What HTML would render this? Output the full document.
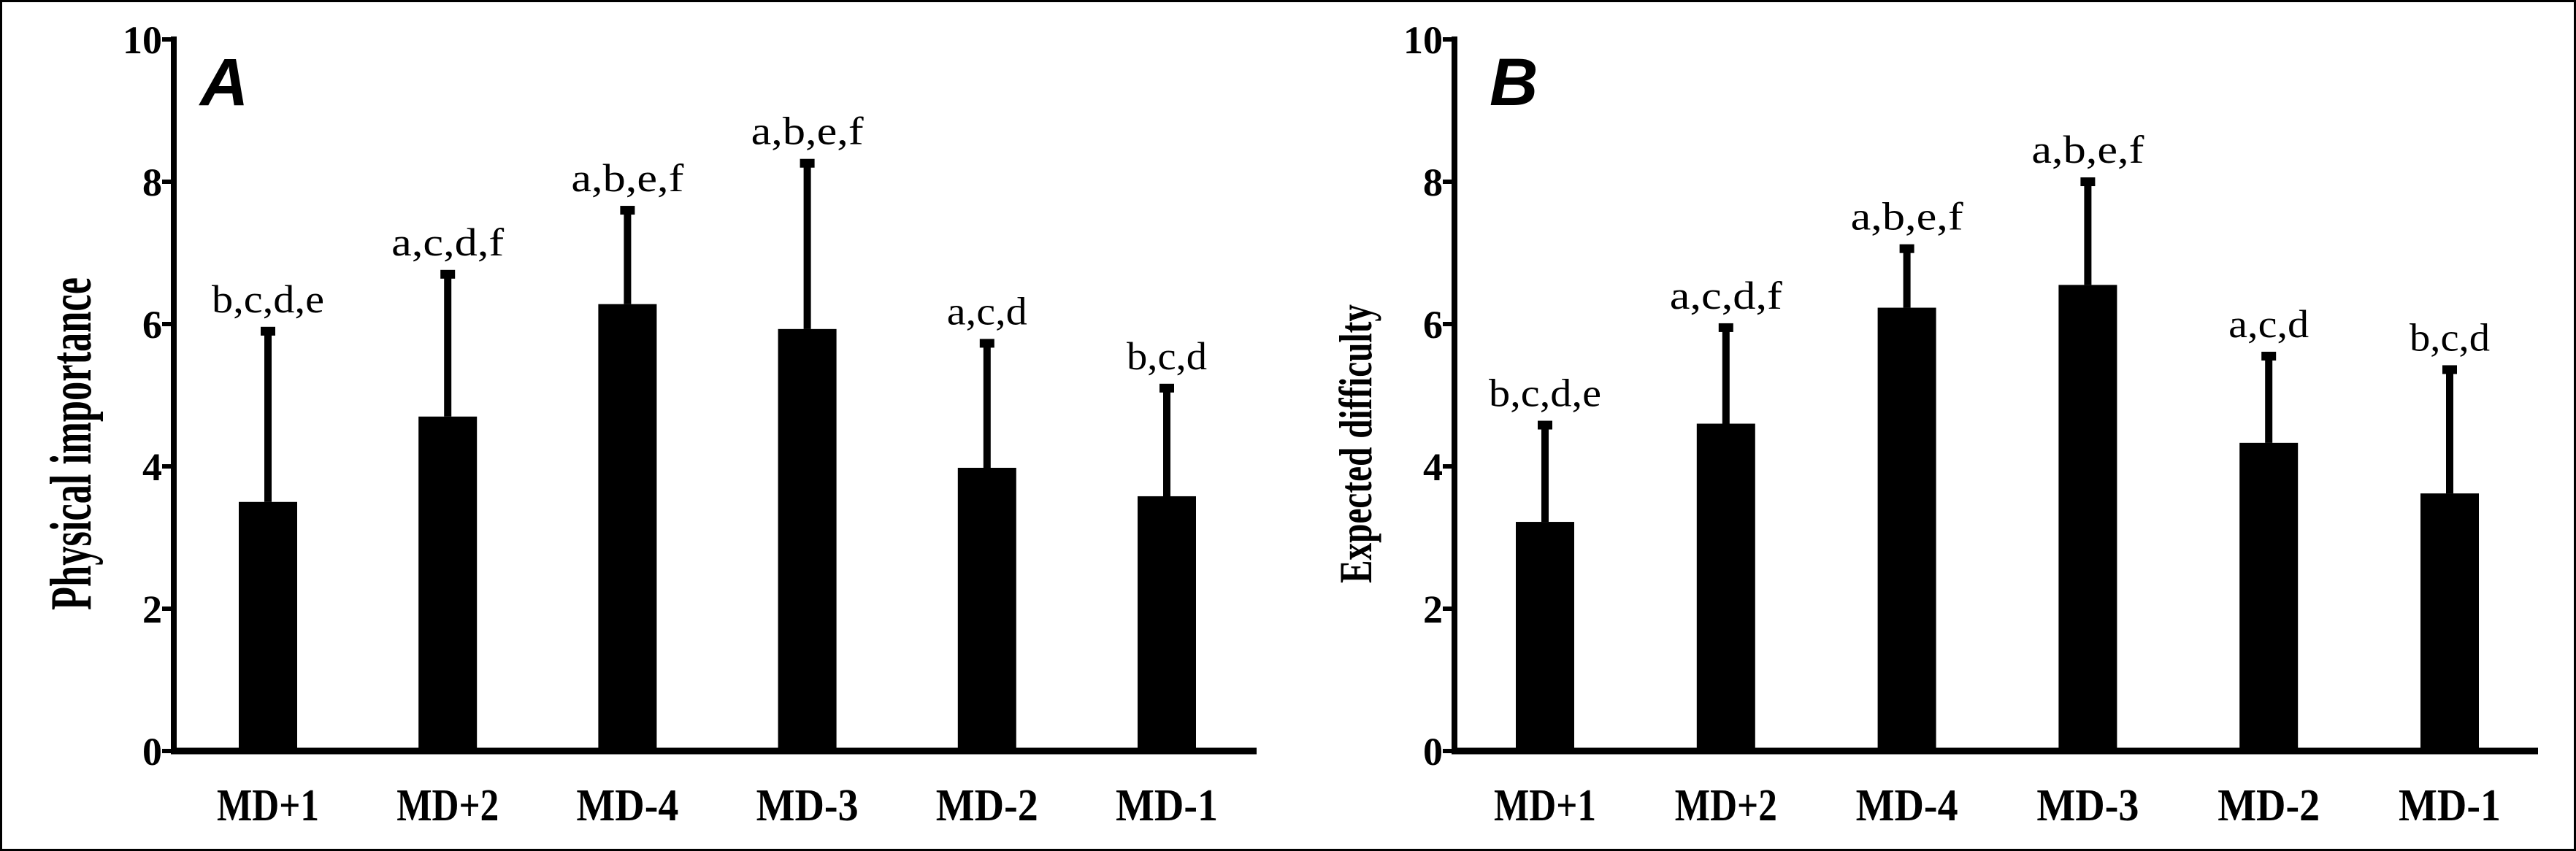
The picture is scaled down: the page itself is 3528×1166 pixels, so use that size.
<!DOCTYPE html>
<html><head><meta charset="utf-8"><style>
html,body{margin:0;padding:0;background:#fff}
svg{display:block}
text{font-family:"Liberation Serif",serif;fill:#000}
</style></head><body>
<svg id="c" width="3528" height="1166" xmlns="http://www.w3.org/2000/svg">
<rect x="1.5" y="1.5" width="3525" height="1163" fill="none" stroke="#000" stroke-width="3"/>
</svg>
<script>
const categories = ["MD+1","MD+2","MD-4","MD-3","MD-2","MD-1"];
const yTicks = [0,2,4,6,8,10];
const valuesA = [3.5,4.7,6.28,5.93,3.98,3.58];
const errTopA = [5.92,6.72,7.62,8.28,5.75,5.12];
const lettersA = ["b,c,d,e","a,c,d,f","a,b,e,f","a,b,e,f","a,c,d","b,c,d"];
const valuesB = [3.22,4.6,6.23,6.55,4.33,3.62];
const errTopB = [4.6,5.97,7.08,8.02,5.57,5.38];
const lettersB = ["b,c,d,e","a,c,d,f","a,b,e,f","a,b,e,f","a,c,d","b,c,d"];

const svg = document.getElementById('c');
const NS = 'http://www.w3.org/2000/svg';
function mk(tag, attrs, parent){const e=document.createElementNS(NS,tag);for(const k in attrs)e.setAttribute(k,attrs[k]);(parent||svg).appendChild(e);return e;}

function panel(p){
  const g = mk('g',{});
  
  
  const y0=1029, y10=54;
  const ys = v => y0 - (v/10)*(y0-y10);
  const xs = i => p.x0 + p.first + i*p.step;
  const ya = mk('line',{x1:p.x0,y1:y10-4,x2:p.x0,y2:y0+4,stroke:'#000','stroke-width':8},g);
  
  
  yTicks.forEach(t=>{
    const tk = mk('line',{x1:p.x0-16,y1:ys(t),x2:p.x0,y2:ys(t),stroke:'#000','stroke-width':6},g);
    
    
    const tl = mk('text',{x:p.x0-16,y:ys(t)+19,'text-anchor':'end','font-size':54,'font-weight':'bold'},g);
    tl.textContent=t;
    
    
  });
  categories.forEach((c,i)=>{
    const cx=xs(i);
    const top=ys(p.vals[i]);
    const b = mk('rect',{x:cx-40,y:top,width:80,height:y0-top,fill:'#000'},g);
    
    
    const et=ys(p.err[i]);
    const e = mk('line',{x1:cx,y1:et,x2:cx,y2:top,stroke:'#000','stroke-width':10},g);
    
    
    const cap = mk('rect',{x:cx-10,y:et-4,width:20,height:12,fill:'#000'},g);
    
    
    const lt = mk('text',{x:cx,y:et-24,'text-anchor':'middle','font-size':54,textLength:p.letters[i].length*22,lengthAdjust:'spacingAndGlyphs'},g);
    lt.textContent=p.letters[i];
    
    
    const cl = mk('text',{x:cx,y:1124,'text-anchor':'middle','font-size':62,'font-weight':'bold',textLength:140,lengthAdjust:'spacingAndGlyphs'},g);
    cl.textContent=c;
    
    
  });
  const xa = mk('line',{x1:p.x0-4,y1:y0,x2:p.xEnd,y2:y0,stroke:'#000','stroke-width':9},g);
  
  
  const tt = mk('text',{transform:'translate('+p.tx+','+p.tc+') rotate(-90)','text-anchor':'middle','font-size':p.tfs,'font-weight':'bold',textLength:p.tlen,lengthAdjust:'spacingAndGlyphs'},g);
  tt.textContent=p.title;
  
  
  const pl = mk('text',{x:p.lx,y:144,'font-size':92,'font-weight':'bold','font-style':'italic',style:'font-family:"Liberation Sans",sans-serif'},g);
  pl.textContent=p.label;
  
  
}
panel({id:'panel-a',x0:238,first:129,step:246.2,xEnd:1721,vals:valuesA,err:errTopA,letters:lettersA,title:'Physical importance',tx:124,tc:608,tfs:80,tlen:456,label:'A',lx:274});
panel({id:'panel-b',x0:1992,first:124,step:247.8,xEnd:3476,vals:valuesB,err:errTopB,letters:lettersB,title:'Expected difficulty',tx:1878,tc:608,tfs:64,tlen:382,label:'B',lx:2040});
</script>
</body></html>
